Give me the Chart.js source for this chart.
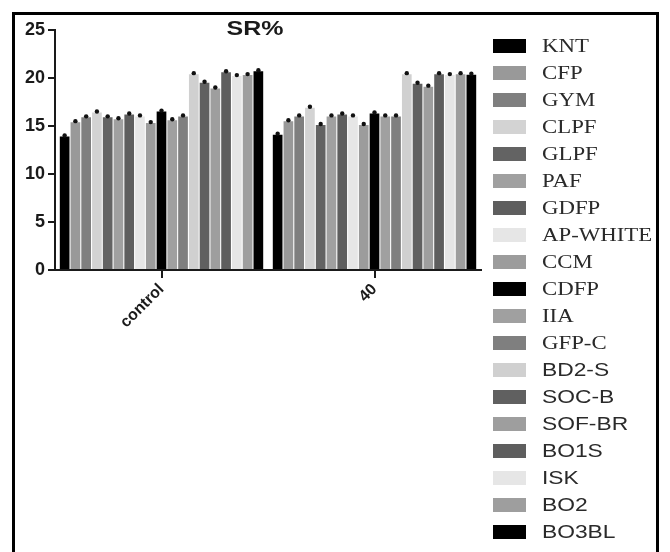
<!DOCTYPE html>
<html>
<head>
<meta charset="utf-8">
<script src="https://cdn.jsdelivr.net/npm/chart.js@4.4.1/dist/chart.umd.min.js"></script>
<style>
    html, body { margin: 0; padding: 0; background: #fff; }
    #wrap { position: relative; width: 670px; height: 552px; overflow: hidden; }
    #frame { position: absolute; left: 12px; top: 12px; width: 641px; height: 600px; border: 3px solid #000; pointer-events: none; }
    #chart { position: absolute; left: 0; top: 0; }
</style>
</head>
<body>
<div id="wrap">
    <canvas id="chart" width="670" height="552"></canvas>
    <div id="frame"></div>
</div>
<script>
// Data
const groups = ['control', '40'];
const seriesNames = ['KNT', 'CFP', 'GYM', 'CLPF', 'GLPF', 'PAF', 'GDFP', 'AP-WHITE', 'CCM', 'CDFP',
    'IIA', 'GFP-C', 'BD2-S', 'SOC-B', 'SOF-BR', 'BO1S', 'ISK', 'BO2', 'BO3BL'];
const controlValues = [13.9, 15.4, 15.9, 16.4, 15.9, 15.7, 16.2, 16.0, 15.3, 16.5,
    15.6, 16.0, 20.4, 19.5, 18.9, 20.6, 20.2, 20.3, 20.7];
const dose40Values = [14.1, 15.5, 16.0, 16.9, 15.1, 16.0, 16.2, 16.0, 15.1, 16.3,
    16.0, 16.0, 20.4, 19.4, 19.1, 20.4, 20.3, 20.4, 20.35];
const yTicks = [0, 5, 10, 15, 20, 25];

// Grey shades per series, and which legend labels use the serif face
const barColors = ['#000000', '#999999', '#7f7f7f', '#d3d3d3', '#636363', '#a0a0a0', '#5e5e5e', '#e6e6e6', '#9c9c9c', '#000000',
    '#a0a0a0', '#7f7f7f', '#d0d0d0', '#606060', '#9e9e9e', '#5e5e5e', '#e6e6e6', '#9e9e9e', '#000000'];
const serifCount = 12;

const ink = '#1a1a1a';
const sans = "'Liberation Sans', Arial, sans-serif";
const serif = "'Liberation Serif', 'Times New Roman', serif";

// small black marks sitting on each bar top
const capMarks = {
    id: 'capMarks',
    afterDatasetsDraw(chart) {
        const ctx = chart.ctx;
        ctx.save();
        ctx.fillStyle = '#111';
        chart.data.datasets.forEach((ds, i) => {
            chart.getDatasetMeta(i).data.forEach(bar => {
                ctx.beginPath();
                ctx.arc(bar.x, bar.y - 1, 2.2, 0, Math.PI * 2);
                ctx.fill();
            });
        });
        ctx.restore();
    }
};

// title + legend with mixed faces, drawn on the canvas
const sideLegend = {
    id: 'sideLegend',
    afterDraw(chart) {
        const ctx = chart.ctx;
        ctx.save();
        ctx.fillStyle = ink;
        ctx.textBaseline = 'middle';
        ctx.textAlign = 'center';
        ctx.font = 'bold 20px ' + sans;
        ctx.translate(255, 29);
        ctx.scale(1.25, 1);
        ctx.fillText('SR%', 0, 0);
        ctx.restore();

        chart.data.datasets.forEach((ds, i) => {
            const y = 46 + i * 27;
            ctx.save();
            ctx.fillStyle = ds.backgroundColor;
            ctx.fillRect(493, y - 7, 33, 14);
            ctx.fillStyle = '#2a2a2a';
            ctx.textBaseline = 'middle';
            ctx.textAlign = 'left';
            ctx.font = (i < serifCount ? '19px ' + serif : '19px ' + sans);
            ctx.translate(542, y + 1);
            ctx.scale(1.2, 1);
            ctx.fillText(ds.label, 0, 0);
            ctx.restore();
        });
    }
};

const datasets = seriesNames.map((name, i) => ({
    label: name,
    data: [controlValues[i], dose40Values[i]],
    backgroundColor: barColors[i],
    borderWidth: 0
}));

new Chart(document.getElementById('chart'), {
    type: 'bar',
    data: { labels: groups, datasets: datasets },
    options: {
        responsive: false,
        animation: false,
        categoryPercentage: 0.96,
        barPercentage: 0.9,
        layout: { padding: { left: 10, right: 189, top: 30, bottom: 212 } },
        plugins: {
            legend: { display: false },
            title: { display: false },
            tooltip: { enabled: false }
        },
        scales: {
            x: {
                grid: { drawOnChartArea: false, offset: false, tickLength: 8, color: ink, lineWidth: 2 },
                border: { color: ink, width: 2 },
                ticks: {
                    maxRotation: 45, minRotation: 45, padding: 2, color: ink,
                    font: { family: sans, weight: 'bold', size: 16 }
                },
                afterFit: s => { s.height = 70; }
            },
            y: {
                min: 0, max: 25,
                afterBuildTicks: axis => { axis.ticks = yTicks.map(v => ({ value: v })); },
                grid: { drawOnChartArea: false, tickLength: 7, color: ink, lineWidth: 2 },
                border: { color: ink, width: 2 },
                ticks: {
                    padding: 3, color: ink,
                    font: { family: sans, weight: 'bold', size: 18 }
                },
                afterFit: s => { s.width = 45; }
            }
        }
    },
    plugins: [capMarks, sideLegend]
});
</script>
</body>
</html>
